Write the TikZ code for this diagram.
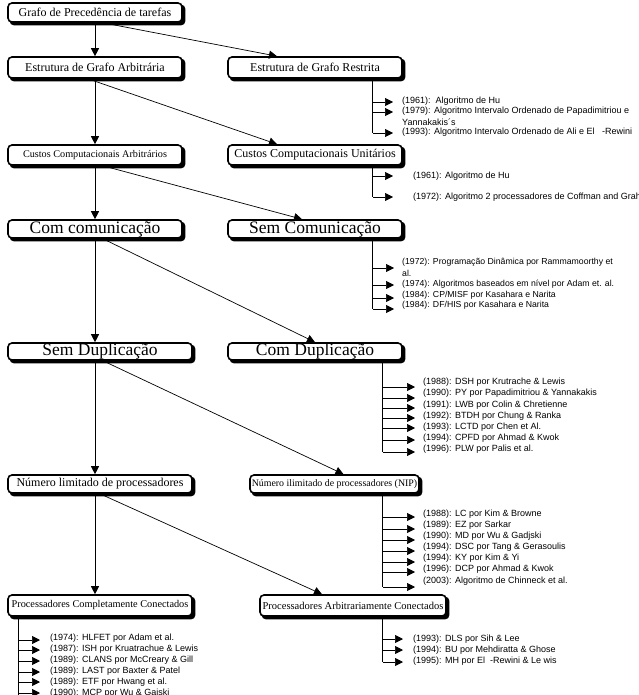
\documentclass[tikz,border=0pt]{standalone}
\usepackage{fontspec}
\setmainfont{Liberation Serif}
\newfontfamily\arialf{Liberation Sans}
\usetikzlibrary{arrows.meta,calc}
\pgfdeclarelayer{bg}
\pgfsetlayers{bg,main}
\tikzset{
  box/.style={draw,line width=1.6pt,rounded corners=4pt,fill=white,
    inner sep=0pt,align=center},
  shadowbox/.style={fill=black,rounded corners=4pt},
  conn/.style={-{Triangle[length=8pt,width=8pt]},line width=0.7pt},
  tipline/.style={-{Triangle[length=8pt,width=8pt]},line width=0.7pt},
  vline/.style={line width=0.7pt},
  item/.style={anchor=west,inner sep=0pt,font=\arialf\fontsize{9}{10.5}\selectfont},
  fs/.style={font=\fontsize{#1}{#1}\selectfont},
}
\begin{document}
\begin{tikzpicture}[x=1pt,y=-1pt]
\useasboundingbox (0,0) rectangle (638,695);

% boxes
\node[box,fs=12,minimum width=174pt,minimum height=19pt] (B1) at (95,12.5) {Grafo de Precedência de tarefas};
\node[box,fs=12,minimum width=174pt,minimum height=21pt] (B2) at (95,67.5) {Estrutura de Grafo Arbitrária};
\node[box,fs=12,minimum width=174pt,minimum height=21pt] (B3) at (315,67.5) {Estrutura de Grafo Restrita};
\node[box,fs=10.2,minimum width=174pt,minimum height=20pt] (B4) at (95,155) {Custos Computacionais Arbitrários};
\node[box,fs=12,minimum width=174pt,minimum height=20pt] (B5) at (315,155) {Custos Computacionais Unitários};
\node[box,fs=17.5,minimum width=174pt,minimum height=18pt] (B6) at (95,229) {Com comunicação};
\node[box,fs=17.5,minimum width=174pt,minimum height=18pt] (B7) at (315,229) {Sem Comunicação};
\node[box,fs=17.5,minimum width=184pt,minimum height=17pt] (B8) at (100,351.5) {Sem Duplicação};
\node[box,fs=17.5,minimum width=174pt,minimum height=17pt] (B9) at (315,351.5) {Com Duplicação};
\node[box,fs=12,minimum width=184pt,minimum height=18pt] (B10) at (100,484) {Número limitado de processadores};
\node[box,fs=9.9,minimum width=169pt,minimum height=18pt] (B11) at (334.5,484) {Número ilimitado de processadores (NIP)};
\node[box,fs=10.3,minimum width=184pt,minimum height=21pt] (B12) at (100,605.5) {Processadores Completamente Conectados};
\node[box,fs=10.5,minimum width=186pt,minimum height=21pt] (B13) at (353,605.5) {Processadores Arbitrariamente Conectados};

% drop shadows behind the boxes
\begin{pgfonlayer}{bg}
\foreach \b in {B1,B2,B3,B4,B5,B6,B7,B8,B9,B10,B11,B12,B13}
  \fill[shadowbox] ($(\b.south west)+(2.5,2.5)$) rectangle ($(\b.north east)+(2.5,2.5)$);
\end{pgfonlayer}

% main connectors
\draw[conn] (B1.south) -- (B2.north);
\draw[conn] ([xshift=8pt]B1.south) -- ([xshift=-38pt]B3.north);
\draw[conn] (B2.south) -- (B4.north);
\draw[conn] ([xshift=-7pt]B2.south) -- ([xshift=-38pt]B5.north);
\draw[conn] (B4.south) -- (B6.north);
\draw[conn] ([xshift=8pt]B4.south) -- ([xshift=-13pt]B7.north);
\draw[conn] (B6.south) -- (B8.north -| B6.south);
\draw[conn] ([xshift=8pt]B6.south) -- (B9.north);
\draw[conn] (B8.south -| B6.south) -- (B10.north -| B6.south);
\draw[conn] ([xshift=8pt]B8.south -| B6.south) -- ([xshift=9pt]B11.north);
\draw[conn] (B10.south -| B6.south) -- (B12.north -| B6.south);
\draw[conn] ([xshift=5pt]B10.south -| B6.south) -- ([xshift=-31pt]B13.north);

% list: Estrutura de Grafo Restrita
\coordinate (L1) at ([xshift=-30pt]B3.south east);
\node[item] (r1) at (402,101) {(1961):\ \ Algoritmo de Hu};
\node[item] (r2) at (402,111) {(1979): Algoritmo Intervalo Ordenado de Papadimitriou e};
\node[item] (r3) at (402,122) {Yannakakis´s};
\node[item] (r4) at (402,132) {(1993): Algoritmo Intervalo Ordenado de Ali e El\ \ \ -Rewini};
\draw[vline] (L1) -- (L1 |- 0,133);
\foreach \y in {102,112,133} \draw[tipline] (L1 |- 0,\y) -- (393,\y);

% list: Custos Computacionais Unitários
\coordinate (L2) at ([xshift=-30pt]B5.south east);
\node[item] (u1) at (413,176) {(1961): Algoritmo de Hu};
\node[item] (u2) at (413,197) {(1972): Algoritmo 2 processadores de Coffman and Graham};
\draw[vline] (L2) -- (L2 |- 0,197);
\foreach \y in {176,197} \draw[tipline] (L2 |- 0,\y) -- (393,\y);

% list: Sem Comunicação
\coordinate (L3) at ([xshift=-30pt]B7.south east);
\begin{scope}[item/.append style={font=\arialf\fontsize{8.7}{10}\selectfont}]
\node[item] (s1) at (402,262) {(1972): Programação Dinâmica por Rammamoorthy et};
\node[item] (s2) at (402,273) {al.};
\node[item] (s3) at (402,284) {(1974): Algoritmos baseados em nível por Adam et. al.};
\node[item] (s4) at (402,295) {(1984): CP/MISF por Kasahara e Narita};
\node[item] (s5) at (402,305.5) {(1984): DF/HIS por Kasahara e Narita};
\end{scope}
\draw[vline] (L3) -- (L3 |- 0,309);
\foreach \y in {268,285,298,309} \draw[tipline] (L3 |- 0,\y) -- (394,\y);

% list: Com Duplicação
\coordinate (L4) at ([xshift=-20pt]B9.south east);
\node[item] (d1) at (423,382) {(1988): DSH por Krutrache \& Lewis};
\node[item] (d2) at (423,393.5) {(1990): PY por Papadimitriou \& Yannakakis};
\node[item] (d3) at (423,405) {(1991): LWB por Colin \& Chretienne};
\node[item] (d4) at (423,416) {(1992): BTDH por Chung \& Ranka};
\node[item] (d5) at (423,427) {(1993): LCTD por Chen et Al.};
\node[item] (d6) at (423,438) {(1994): CPFD por Ahmad \& Kwok};
\node[item] (d7) at (423,449) {(1996): PLW por Palis et al.};
\draw[vline] (L4) -- (L4 |- 0,452);
\foreach \y in {387,398,408,418,428,440,452} \draw[tipline] (L4 |- 0,\y) -- (415,\y);

% list: NIP
\coordinate (L5) at ([xshift=-37pt]B11.south east);
\node[item] (n1) at (423,514) {(1988): LC por Kim \& Browne};
\node[item] (n2) at (423,525.5) {(1989): EZ por Sarkar};
\node[item] (n3) at (423,536.5) {(1990): MD por Wu \& Gadjski};
\node[item] (n4) at (423,547.5) {(1994): DSC por Tang \& Gerasoulis};
\node[item] (n5) at (423,558.5) {(1994): KY por Kim \& Yi};
\node[item] (n6) at (423,569.5) {(1996): DCP por Ahmad \& Kwok};
\node[item] (n7) at (423,581) {(2003): Algoritmo de Chinneck et al.};
\draw[vline] (L5) -- (L5 |- 0,587);
\foreach \y in {517,529,540,551,562,572,587} \draw[tipline] (L5 |- 0,\y) -- (415,\y);

% list: Processadores Completamente Conectados
\coordinate (L6) at ([xshift=11pt]B12.south west);
\node[item] (c1) at (50,638) {(1974): HLFET por Adam et al.};
\node[item] (c2) at (50,649) {(1987): ISH por Kruatrachue \& Lewis};
\node[item] (c3) at (50,660) {(1989): CLANS por McCreary \& Gill};
\node[item] (c4) at (50,671) {(1989): LAST por Baxter \& Patel};
\node[item] (c5) at (50,682) {(1989): ETF por Hwang et al.};
\node[item] (c6) at (50,693) {(1990): MCP por Wu \& Gajski};
\draw[vline] (L6) -- (L6 |- 0,700);
\foreach \y in {640,650,661,672,682,693} \draw[tipline] (L6 |- 0,\y) -- (40,\y);

% list: Processadores Arbitrariamente Conectados
\coordinate (L7) at ([xshift=-64pt]B13.south east);
\node[item] (a1) at (413,639) {(1993): DLS por Sih \& Lee};
\node[item] (a2) at (413,650) {(1994): BU por Mehdiratta \& Ghose};
\node[item] (a3) at (413,661) {(1995): MH por El\ \ -Rewini \& Le wis};
\draw[vline] (L7) -- (L7 |- 0,662);
\foreach \y in {639,650,662} \draw[tipline] (L7 |- 0,\y) -- (403,\y);
\end{tikzpicture}
\end{document}
